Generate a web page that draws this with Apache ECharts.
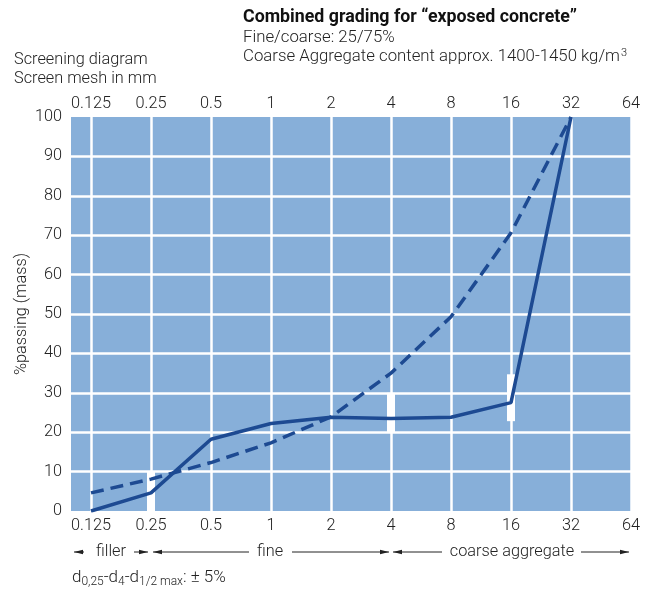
<!DOCTYPE html>
<html>
<head>
<meta charset="utf-8">
<script src="https://cdn.jsdelivr.net/npm/echarts@6/dist/echarts.min.js"></script>
<style>
html,body{margin:0;padding:0;background:#fff;}
#c{width:647px;height:591px;}
</style>
</head>
<body>
<div id="c"></div>
<script>
// Sieve sizes (mm), log2-spaced
var meshLabels = ['0.125','0.25','0.5','1','2','4','8','16','32','64'];
var meshPos = [0,1,2,3,4,5,6,7,8,9];
// Combined grading (solid), % passing at each sieve 0.125..32
var gradingSolid = [0, 4.6, 18.2, 22.2, 23.8, 23.5, 23.8, 27.5, 100];
// Reference curve (dashed)
var gradingDashed = [4.6, 8.1, 12.3, 17.3, 23.9, 35.0, 49.3, 70.6, 100];
// Tolerance bars (index into meshLabels, low %, high %)
var tolIndex = [1, 5, 7];
var tolLow = [0, 20, 22.8];
var tolHigh = [10, 30, 34.7];

var FONT = 'Roboto';
var TXT = '#222222';
var FS = 16.3;
var FW = 300;

function pts(arr){ return arr.map(function(v,i){ return [i, v]; }); }
var tolData = tolIndex.map(function(x,i){ return [x, tolLow[i], tolHigh[i]]; });

function lbl(v){
  var r = Math.round(v);
  if (Math.abs(v - r) < 1e-6 && r >= 0 && r < meshLabels.length) return meshLabels[r];
  return '';
}

var chart = echarts.init(document.getElementById('c'), null, {renderer:'canvas'});

function arrowHead(x, y, dir){
  return {type:'polygon', shape:{points:[[x,y],[x-dir*9,y-2.3],[x-dir*9,y+2.3]]}, style:{fill:TXT}};
}
function hline(x1,x2,y){
  return {type:'line', shape:{x1:x1,y1:y,x2:x2,y2:y}, style:{stroke:TXT, lineWidth:1}};
}
var F = FW + ' ' + FS + 'px ' + FONT;
var FH = FW + ' 16.8px ' + FONT;
var ay = 552;
var graphics = [
  {type:'text', left:243, top:9, style:{text:'Combined grading for \u201cexposed concrete\u201d', font:'bold 17.8px '+FONT, fill:'#111'}},
  {type:'text', left:243, top:29, style:{text:'Fine/coarse: 25/75%', font:FH, fill:TXT}},
  {type:'text', left:243, top:48, style:{
    text:'Coarse Aggregate content approx. 1400-1450 kg/m{sup|3}', font:FH, fill:TXT,
    rich:{sup:{fontSize:11, fontWeight:FW, fontFamily:FONT, fill:TXT, padding:[0,0,7,1]}}}},
  {type:'text', left:14, top:52, style:{text:'Screening diagram', font:F, fill:TXT}},
  {type:'text', left:14, top:71, style:{text:'Screen mesh in mm', font:F, fill:TXT}},
  // bottom zone annotations
  hline(74,84,ay), arrowHead(74,ay,-1),
  {type:'text', x:111, y:ay, style:{text:'filler', font:F, fill:TXT, align:'center', verticalAlign:'middle'}},
  hline(134,148,ay), arrowHead(148,ay,1),
  hline(153,249,ay), arrowHead(153,ay,-1),
  {type:'text', x:270, y:ay, style:{text:'fine', font:F, fill:TXT, align:'center', verticalAlign:'middle'}},
  hline(292,389,ay), arrowHead(389,ay,1),
  hline(393,442,ay), arrowHead(393,ay,-1),
  {type:'text', x:512, y:ay, style:{text:'coarse aggregate', font:F, fill:TXT, align:'center', verticalAlign:'middle'}},
  hline(581,629,ay), arrowHead(629,ay,1),
  {type:'text', left:72, top:569, style:{
    text:'d{s|0,25}-d{s|4}-d{s|1/2 max}: \u00b1 5%',
    font:FW + ' 17px ' + FONT, fill:TXT,
    rich:{s:{fontSize:12, fontWeight:FW, fontFamily:FONT, fill:TXT, padding:[8,0,0,0]}}
  }}
];

var xCommon = {
  type:'value', min:-1/3, max:9,
  axisLine:{show:false},
  axisTick:{show:false, customValues:meshPos},
  axisLabel:{formatter:lbl, customValues:meshPos, color:TXT, fontSize:FS, fontWeight:FW, fontFamily:FONT}
};

var option = {
  animation:false,
  backgroundColor:'#ffffff',
  grid:{left:71, right:16, top:117, bottom:80, show:true, backgroundColor:'#87afd9', borderWidth:0},
  xAxis:[
    echarts.util.merge({position:'bottom', axisLabel:{margin:7},
      splitLine:{show:true, lineStyle:{color:'#ffffff', width:2.5}}}, xCommon, false),
    echarts.util.merge({position:'top', axisLabel:{margin:5}, splitLine:{show:false}}, xCommon, false)
  ],
  yAxis:{type:'value', min:0, max:100, interval:10,
    name:'%passing (mass)', nameLocation:'middle', nameGap:41, nameRotate:90,
    nameMoveOverlap:false,
    nameTextStyle:{color:TXT, fontSize:FS, fontWeight:FW, fontFamily:FONT},
    axisLine:{show:false}, axisTick:{show:false},
    axisLabel:{color:TXT, fontSize:FS, fontWeight:FW, fontFamily:FONT, margin:9},
    splitLine:{show:true, showMinLine:false, showMaxLine:false, lineStyle:{color:'#ffffff', width:2.5}}},
  series:[
    {type:'custom', z:1, xAxisIndex:0, data:tolData, silent:true,
     renderItem:function(params, api){
       var lo = api.coord([api.value(0), api.value(1)]);
       var hi = api.coord([api.value(0), api.value(2)]);
       return {type:'rect', shape:{x:lo[0]-4, y:hi[1], width:8, height:lo[1]-hi[1]}, style:{fill:'#ffffff'}};
     }},
    {type:'line', z:3, data:pts(gradingDashed), symbol:'none', smooth:false,
     lineStyle:{color:'#1d4a92', width:3.5, type:[13,7], cap:'butt'}},
    {type:'line', z:4, data:pts(gradingSolid), symbol:'none', smooth:false,
     lineStyle:{color:'#1d4a92', width:3.5}}
  ],
  graphic:graphics
};
chart.setOption(option);
</script>
</body>
</html>
